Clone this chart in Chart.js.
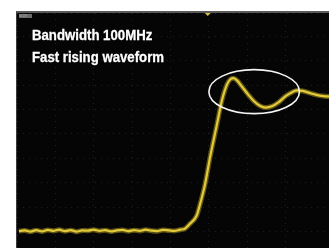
<!DOCTYPE html>
<html lang="en">
<head>
  <meta charset="UTF-8">
  <title>Bandwidth 100MHz - Fast rising waveform</title>
  <style>
    * { margin: 0; padding: 0; box-sizing: border-box; }
    body { background: #fff; width: 329px; height: 248px; overflow: hidden; position: relative; }
    .screen {
      position: absolute; left: 16px; top: 11px; width: 313px; height: 237px;
      background: #050505; border-top: 2px solid #5a5a5a; border-left: 1px solid #3a3a3a;
    }
    canvas { display: block; }
    .caption {
      position: absolute; left: 32px; color: #fff;
      font-family: 'Liberation Sans', Arial, sans-serif;
      font-weight: bold; font-size: 15px; line-height: 15px; white-space: nowrap;
      transform: scaleX(0.88); transform-origin: 0 0;
      -webkit-text-stroke: 0.3px #fff;
    }
    .tag {
      position: absolute; left: 19px; top: 14px; width: 13px; height: 4px;
      background: #6a6a6a; font-size: 3px; color: #aaa; line-height: 4px; overflow: hidden;
    }
  </style>
</head>
<body>
  <div class="screen"><canvas id="scope" width="312" height="235"></canvas></div>
  <div class="tag">MAIN</div>
  <div class="caption" style="top:27px">Bandwidth 100MHz</div>
  <div class="caption" style="top:49px">Fast rising waveform</div>

  <script src="https://cdn.jsdelivr.net/npm/chart.js@4.4.1/dist/chart.umd.min.js"></script>
  <script>
    // time axis in divisions, voltage in divisions
    const timeDiv = [0.05, 0.2, 0.35, 0.5, 0.65, 0.8, 0.95, 1.1, 1.25, 1.4, 1.55, 1.7, 1.85, 2.0, 2.15,
      2.3, 2.45, 2.6, 2.75, 2.9, 3.05, 3.2, 3.35, 3.5, 3.65, 3.8, 3.95, 4.1, 4.25, 4.375, 4.5, 4.68,
      4.77, 4.9, 5.03, 5.21, 5.34, 5.47, 5.56, 5.64, 5.74, 5.87, 6.02, 6.17, 6.33, 6.48, 6.64, 6.82,
      7.0, 7.18, 7.3, 7.45, 7.62, 7.8, 7.98, 8.15];
    const voltDiv = [0.02, 0.05, 0.0, 0.06, 0.01, 0.07, 0.03, 0.08, 0.02, 0.06, 0.0, 0.05, 0.04, 0.08,
      0.03, 0.06, 0.01, 0.05, 0.07, 0.02, 0.06, 0.03, 0.08, 0.04, 0.02, 0.07, 0.05, 0.03, 0.08, 0.12,
      0.31, 0.65, 1.12, 1.94, 3.04, 4.39, 5.37, 6.02, 6.24, 6.28, 6.18, 5.92, 5.62, 5.35, 5.15, 5.08,
      5.13, 5.3, 5.55, 5.72, 5.78, 5.76, 5.68, 5.6, 5.55, 5.53];
    const triggerAt = 4.97;
    const overshoot = { x: 6.18, y: 5.73, rx: 1.18, ry: 0.9 };

    const points = timeDiv.map((t, i) => ({ x: t, y: voltDiv[i] }));

    const scopeExtras = {
      id: 'scopeExtras',
      afterDatasetsDraw(chart) {
        const { ctx, scales: { x, y } } = chart;
        ctx.save();
        // overshoot ellipse
        const cx = x.getPixelForValue(overshoot.x);
        const cy = y.getPixelForValue(overshoot.y);
        const rx = x.getPixelForValue(overshoot.x + overshoot.rx) - cx;
        const ry = cy - y.getPixelForValue(overshoot.y + overshoot.ry);
        ctx.strokeStyle = '#f4f4f4';
        ctx.lineWidth = 1.6;
        ctx.beginPath();
        ctx.ellipse(cx, cy, rx, ry, 0, 0, Math.PI * 2);
        ctx.stroke();
        // trigger marker
        const tx = x.getPixelForValue(triggerAt);
        ctx.fillStyle = '#d9c23a';
        ctx.beginPath();
        ctx.moveTo(tx - 3, 0);
        ctx.lineTo(tx + 3, 0);
        ctx.lineTo(tx, 3);
        ctx.closePath();
        ctx.fill();
        ctx.restore();
      }
    };

    new Chart(document.getElementById('scope'), {
      type: 'line',
      data: {
        datasets: [{
          data: points,
          borderColor: 'rgba(225, 200, 50, 0.4)',
          borderWidth: 5,
          pointRadius: 0,
          cubicInterpolationMode: 'monotone'
        }, {
          data: points,
          borderColor: '#e6cc3c',
          borderWidth: 2.2,
          pointRadius: 0,
          cubicInterpolationMode: 'monotone'
        }]
      },
      options: {
        responsive: false,
        animation: false,
        events: [],
        layout: { padding: 0 },
        plugins: { legend: { display: false }, tooltip: { enabled: false } },
        scales: {
          x: {
            type: 'linear', min: 0, max: 8.13,
            ticks: { display: false, stepSize: 1 },
            grid: { color: 'rgba(80, 80, 80, 0.35)', lineWidth: 1, drawTicks: false },
            border: { display: false, dash: [1, 5] }
          },
          y: {
            type: 'linear', min: -0.67, max: 8.95,
            ticks: { display: false, stepSize: 1 },
            grid: { color: 'rgba(80, 80, 80, 0.35)', lineWidth: 1, drawTicks: false },
            border: { display: false, dash: [1, 5] }
          }
        }
      },
      plugins: [scopeExtras]
    });
  </script>
</body>
</html>
